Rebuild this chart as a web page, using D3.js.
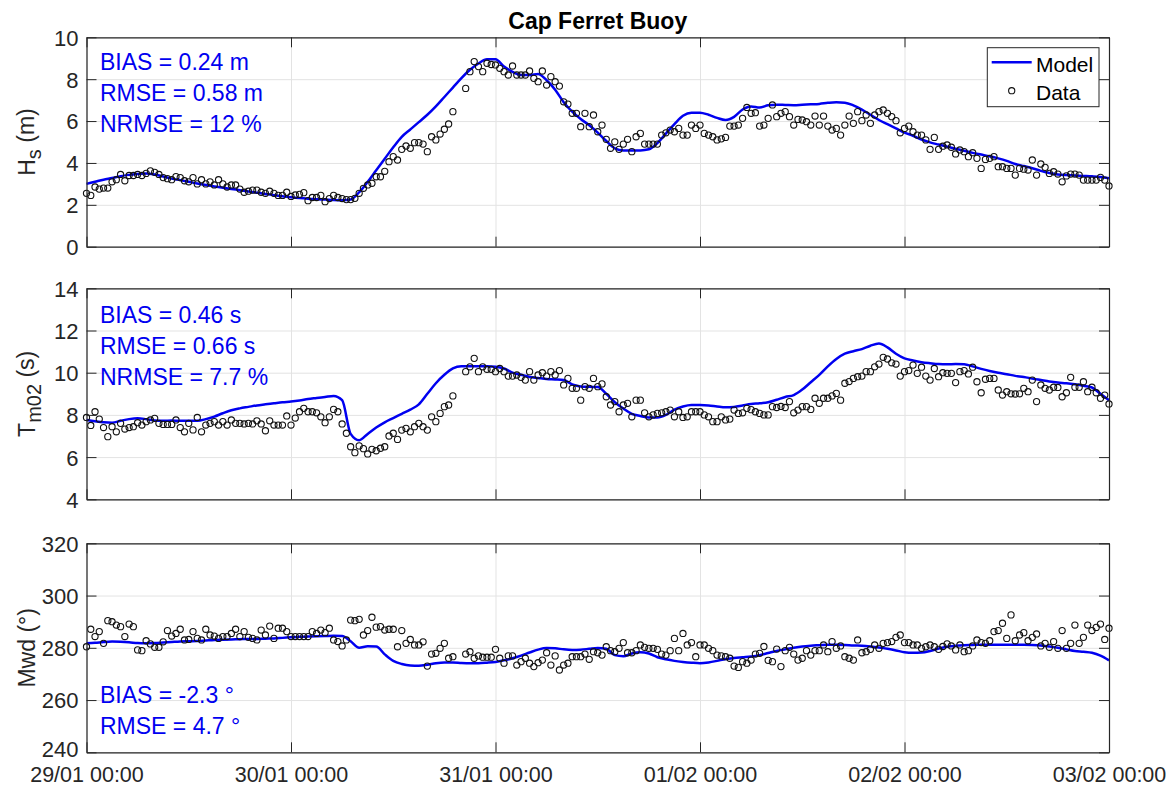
<!DOCTYPE html>
<html><head><meta charset="utf-8">
<script src="https://cdn.jsdelivr.net/npm/d3@7"></script>
<style>
body{margin:0;background:#fff}
svg{display:block}
text{font-family:"Liberation Sans",Arial,Helvetica,sans-serif}
</style>
</head><body>
<svg id="c" width="1176" height="787"></svg>
<script>
// ---------- DATA ----------
const startUTC = Date.UTC(2014, 0, 29, 0, 0);
const xTickDays = [0, 1, 2, 3, 4, 5];           // days after 29/01 00:00
const xTickLabels = ["29/01 00:00","30/01 00:00","31/01 00:00","01/02 00:00","02/02 00:00","03/02 00:00"];
const dataStepMinutes = 30;
const modelStepMinutes = 60;

// Buoy observations (every 30 min, null = missing)
const hsData = [
2.55,2.45,2.85,2.75,2.8,2.8,3.1,3.2,3.45,3.15,
3.4,3.4,3.45,3.4,3.5,3.62,3.55,3.45,3.3,3.25,
3.2,3.35,3.3,3.15,3.1,3.3,3.0,3.2,3.0,3.1,
2.95,3.2,3.0,2.85,2.95,2.95,2.75,2.6,2.65,2.7,
2.7,2.6,2.55,2.65,2.55,2.45,2.45,2.6,2.4,2.47,
2.5,2.58,2.2,2.35,2.35,2.45,2.15,2.3,2.45,2.35,
2.3,2.25,2.25,2.31,2.55,2.79,2.95,3.03,3.34,3.34,
3.6,4.06,4.3,4.14,4.65,4.81,4.7,4.97,4.97,4.9,
4.54,5.25,5.1,5.38,5.61,5.86,6.45,null,null,7.56,
8.36,8.84,8.6,8.36,8.76,8.7,8.68,8.52,8.36,8.2,
8.63,8.2,8.2,8.2,8.39,8.04,7.88,8.39,7.72,8.12,
7.88,7.67,6.92,6.81,6.37,6.37,5.73,6.37,5.73,6.29,
5.49,5.81,5.13,4.7,5.01,4.65,4.9,5.13,4.54,5.25,
5.41,4.9,4.9,4.9,4.9,5.33,5.44,5.57,5.49,5.65,
5.33,5.33,5.81,5.65,5.81,5.41,5.33,5.25,5.1,5.15,
5.22,5.76,5.76,5.81,6.13,6.65,6.37,6.4,5.76,5.81,
6.13,6.77,6.21,6.37,6.45,6.21,5.81,6.08,6.05,5.97,
5.81,6.24,5.81,6.24,5.76,5.57,5.65,5.33,5.81,6.24,
5.89,6.45,6.02,6.29,5.89,6.29,6.45,6.53,6.37,6.21,
6.02,5.44,5.65,5.76,5.49,5.33,5.33,5.1,4.65,5.22,
4.65,4.8,4.86,4.75,4.43,4.62,4.54,4.3,4.49,4.22,
3.74,4.17,4.22,4.3,3.82,3.82,3.74,3.74,3.42,3.74,
3.7,3.66,4.14,3.42,3.95,3.79,3.5,3.58,3.47,3.1,
3.38,3.47,3.47,3.42,3.18,3.18,3.18,3.18,3.31,3.18,2.9];

const tmData = [
7.88,7.5,8.15,7.8,7.4,6.97,7.44,7.2,7.6,7.33,
7.4,7.44,7.63,7.52,7.68,7.76,7.84,7.6,7.55,7.55,
7.55,7.76,7.4,7.2,7.6,7.29,7.88,7.2,7.52,7.6,
7.68,7.52,7.68,7.52,7.76,7.6,7.6,7.57,7.6,7.57,
7.72,7.57,7.25,7.72,7.52,7.52,7.52,7.95,7.52,7.85,
8.15,8.31,8.15,8.15,8.1,7.91,7.63,7.91,8.26,8.15,
7.57,7.13,6.49,6.21,6.53,6.4,6.15,6.37,6.3,6.42,
6.49,7.0,7.13,6.84,7.28,7.36,7.2,7.44,7.6,7.44,
7.28,7.91,7.68,8.07,8.39,8.47,8.9,null,null,10.05,
10.28,10.68,10.05,10.28,10.16,10.16,10.05,10.2,10.05,9.84,
9.84,9.89,9.78,9.65,10.05,9.65,9.89,10.0,9.84,10.05,
9.89,10.1,9.42,9.73,9.26,9.26,8.7,9.34,9.26,9.73,
9.34,9.47,8.86,8.47,8.63,8.15,8.47,8.55,7.91,8.7,
8.7,8.1,7.91,8.0,8.07,8.1,8.15,8.23,7.91,8.15,
7.88,7.91,8.15,8.15,8.15,8.0,7.91,7.68,7.68,7.91,
7.76,7.8,8.23,8.07,8.1,8.31,8.25,8.15,8.07,8.0,
8.0,8.39,8.35,8.4,8.35,8.63,8.1,8.23,8.39,8.39,
8.26,8.79,8.55,8.79,8.79,8.9,9.02,8.7,9.5,9.58,
9.73,9.81,9.84,10.05,10.05,10.28,10.41,10.73,10.65,10.47,
10.41,9.84,10.05,10.1,10.36,9.97,10.26,9.84,9.65,10.2,
9.81,10.0,9.97,9.97,9.53,10.05,10.1,9.94,10.26,9.57,
9.05,9.69,9.73,9.73,9.18,8.94,9.1,9.0,8.99,9.0,
9.26,9.1,9.65,8.63,9.42,9.26,9.18,9.31,9.3,8.86,
9.05,9.78,9.31,9.31,9.57,9.1,9.31,9.05,8.79,8.94,8.52];

const mwdData = [
280.4,287.1,284.3,286.2,281.7,290.4,290,288.7,288.1,284.3,
289.1,288.1,279.2,278.9,282.7,281.5,280.2,280.2,282.3,286.6,
284.5,285.5,287.1,283,283.2,286.2,283.6,283,287.1,284.9,
284.5,283.6,284.3,284.3,285.5,287.1,284.3,286.2,284,283.6,
283,286.8,284.9,288.3,283.6,287.5,287.5,286.2,284.3,284.3,
284.3,284.3,284.3,286.2,285.5,286.8,285.8,287.5,283,282.4,
280.7,283,290.6,290.4,290.9,284.9,286.6,291.7,287.9,288.1,
286.8,287.1,287.1,280.4,286.6,281.7,283.2,281.1,281.1,282.3,
273.0,277.6,277.9,279.8,281.7,276,276.6,null,null,277.6,
278.5,276,276.9,276.4,276.4,276.4,279.4,276,274.1,276.9,
276.9,273.4,274.7,276,274.1,272.8,274.3,275.3,278.1,273.4,
276.9,271.5,273.4,274.1,276.6,276.6,276.6,277.6,275.6,278.5,
278.1,277.2,280.4,278.9,278.5,279.8,282,278.1,278.1,278.9,
281.1,280.2,279.8,279.8,279.4,277.6,277.2,278.9,283.6,278.9,
285.5,281.1,282,276.6,281.1,281.1,279.8,278.9,277.2,276.9,
276.6,276,273,272.5,274.7,274.1,275.3,277.6,277.9,280.5,
275.2,274.7,279.5,272.8,278.9,280.2,277.6,275.3,276,278.9,
277.2,278.9,278.9,281.1,278.5,282.4,279.8,280.7,276.6,276,
275.3,283,278.1,278.5,279.4,281.1,279.8,281.7,282,282.4,
284,284.9,282,282,281.1,281.1,279.8,280.4,281.1,280.4,
279.4,280.5,281.5,280.7,279.2,281.1,278.5,278.9,280.7,283,
282,281.7,282.7,286.2,286.6,289.4,283.6,292.6,282.7,284.9,
285.8,282.7,284,285.3,280.7,281.7,280.2,282.4,279.8,286.6,
279.8,281.7,288.7,281.7,284,288.7,286.6,287.8,289.1,283.2,287.5];

// Model (hourly)
const hsModel = [
3.0,3.1,3.2,3.28,3.37,3.43,3.47,3.5,3.45,3.35,
3.25,3.18,3.1,3.02,2.95,2.88,2.82,2.76,2.7,2.64,
2.58,2.52,2.46,2.41,2.36,2.32,2.29,2.27,2.25,2.23,
2.22,2.25,2.6,3.1,3.65,4.2,4.75,5.25,5.6,5.95,
6.3,6.7,7.15,7.6,8.05,8.45,8.75,8.95,8.95,8.6,
8.35,8.2,8.2,8.25,7.95,7.5,6.9,6.45,6.1,5.8,
5.45,5.05,4.7,4.6,4.6,4.6,4.65,4.95,5.4,5.85,
6.25,6.4,6.4,6.3,6.15,6.05,6.2,6.55,6.7,6.65,
6.75,6.78,6.77,6.76,6.78,6.8,6.82,6.87,6.9,6.88,
6.75,6.55,6.3,6.05,5.85,5.65,5.45,5.3,5.12,4.98,
4.88,4.78,4.68,4.58,4.48,4.4,4.32,4.22,4.1,3.95,
3.85,3.75,3.62,3.52,3.45,3.42,3.4,3.38,3.36,3.33,3.27];

const tmModel = [
7.76,7.7,7.65,7.63,7.72,7.8,7.84,7.8,7.74,7.72,
7.73,7.72,7.72,7.72,7.8,7.92,8.08,8.22,8.31,8.38,
8.45,8.5,8.55,8.6,8.63,8.68,8.75,8.8,8.85,8.9,
8.7,7.1,6.8,7.1,7.4,7.65,7.85,8.05,8.25,8.5,
9.0,9.5,9.9,10.2,10.3,10.3,10.3,10.3,10.28,10.2,
10.0,9.9,9.8,9.75,9.7,9.68,9.65,9.45,9.35,9.33,
9.32,9.0,8.6,8.3,8.05,7.95,7.88,7.88,8.0,8.25,
8.4,8.47,8.47,8.45,8.4,8.36,8.38,8.45,8.52,8.55,
8.6,8.72,8.85,8.94,9.2,9.55,9.9,10.3,10.65,10.9,
11.02,11.12,11.28,11.38,11.2,10.9,10.68,10.58,10.5,10.45,
10.41,10.4,10.41,10.4,10.3,10.18,10.08,10.0,9.93,9.85,
9.8,9.72,9.65,9.58,9.53,9.5,9.45,9.38,9.3,9.0,8.7];

const mwdModel = [
281.7,281.9,282.2,282.4,282.3,282.1,281.8,281.7,281.8,282.0,
282.2,282.4,282.5,282.6,282.8,283.0,283.1,283.2,283.3,283.4,
283.4,283.5,283.6,283.8,284.0,284.2,284.3,284.4,284.5,284.6,
284.5,282.5,280.0,280.6,280.5,277.5,275.0,273.8,273.2,273.1,
273.5,274.1,274.4,274.4,274.2,274.1,274.1,274.3,274.6,275.2,
276.0,277.0,278.2,279.3,279.9,279.8,279.4,279.2,279.3,279.6,
279.9,279.6,277.2,276.8,277.8,278.3,277.8,276.4,275.6,275.0,
274.6,274.3,274.1,274.4,275.0,275.7,276.1,276.4,276.7,277.2,
278.0,278.8,279.4,280.0,280.5,280.8,281.0,281.2,281.2,281.1,
280.9,280.8,280.5,280.1,279.6,279.0,278.3,278.1,278.2,278.8,
279.7,280.4,280.8,281.0,281.1,281.2,281.2,281.2,281.2,281.2,
281.2,281.1,280.9,280.5,280.0,279.4,278.8,278.5,278.1,277.0,275.2];

const hsTicks = [0,2,4,6,8,10];
const tmTicks = [4,6,8,10,12,14];
const mwdTicks = [240,260,280,300,320];

const hsStats = ["BIAS = 0.24 m","RMSE = 0.58 m","NRMSE = 12 %"];
const tmStats = ["BIAS = 0.46 s","RMSE = 0.66 s","NRMSE = 7.7 %"];
const mwdStats = ["BIAS = -2.3 °","RMSE = 4.7 °"];

const titleText = "Cap Ferret Buoy";
const legendLabels = ["Model","Data"];

// ---------- LAYOUT ----------
const svg = d3.select("#c");
const L = 86.5, R = 1109;
const BLUE = "#0000f0", AX = "#262626", GRID = "#e3e3e3";
const MR = 3.1;

const panels = [
  {top:37.3, bottom:246.7, domain:[0,10], ticks:hsTicks, data:hsData, model:hsModel,
   stats:hsStats, statsY:[70,101,132], label:[["H",false],["s",true],[" (m)",false]], showX:false},
  {top:288.3, bottom:499.3, domain:[4,14], ticks:tmTicks, data:tmData, model:tmModel,
   stats:tmStats, statsY:[323,354,385], label:[["T",false],["m02",true],[" (s)",false]], showX:false},
  {top:543.3, bottom:752.3, domain:[240,320], ticks:mwdTicks, data:mwdData, model:mwdModel,
   stats:mwdStats, statsY:[703,734], label:[["Mwd (°)",false]], showX:true}
];

const x = d3.scaleUtc()
  .domain([new Date(startUTC), new Date(startUTC + 5*86400000)])
  .range([L, R]);
const xTickDates = xTickDays.map(d => new Date(startUTC + d*86400000));

panels.forEach(p => {
  const y = d3.scaleLinear().domain(p.domain).range([p.bottom, p.top]);
  const g = svg.append("g");
  const H = p.bottom - p.top, W = R - L;

  // grid
  const gx = g.append("g").attr("transform",`translate(0,${p.bottom})`)
    .call(d3.axisBottom(x).tickValues(xTickDates).tickSize(-H).tickFormat(""));
  gx.select(".domain").remove();
  gx.selectAll("line").attr("stroke",GRID).attr("stroke-width",1);
  const gy = g.append("g").attr("transform",`translate(${L},0)`)
    .call(d3.axisLeft(y).tickValues(p.ticks).tickSize(-W).tickFormat(""));
  gy.select(".domain").remove();
  gy.selectAll("line").attr("stroke",GRID).attr("stroke-width",1);

  // model line
  const modelPts = p.model.map((v,i)=>({t:new Date(startUTC + i*modelStepMinutes*60000), v}));
  g.append("path").datum(modelPts)
    .attr("fill","none").attr("stroke",BLUE).attr("stroke-width",2.5)
    .attr("stroke-linejoin","round")
    .attr("d", d3.line().x(d=>x(d.t)).y(d=>y(d.v)).curve(d3.curveMonotoneX));

  // data circles
  const dataPts = p.data.map((v,i)=>({t:new Date(startUTC + i*dataStepMinutes*60000), v}))
    .filter(d=>d.v!=null);
  g.append("g").selectAll("circle").data(dataPts).join("circle")
    .attr("cx",d=>x(d.t)).attr("cy",d=>y(d.v)).attr("r",MR)
    .attr("fill","none").attr("stroke","#111").attr("stroke-width",1.1);

  // axes with inward ticks
  const styleAxis = sel => {
    sel.select(".domain").attr("stroke",AX).attr("stroke-width",1.2);
    sel.selectAll(".tick line").attr("stroke",AX).attr("stroke-width",1);
    sel.selectAll("text").attr("fill",AX).style("font-size","22px")
      .style("font-family",'"Liberation Sans",Arial,sans-serif');
  };
  const ay = g.append("g").attr("transform",`translate(${L},0)`)
    .call(d3.axisLeft(y).tickValues(p.ticks).tickSize(-10).tickSizeOuter(0).tickPadding(8).tickFormat(d3.format("d")));
  styleAxis(ay);
  ay.selectAll("text").attr("dy", d => (p.showX && d === p.domain[0]) ? "0.2em" : "0.36em");
  const ar = g.append("g").attr("transform",`translate(${R},0)`)
    .call(d3.axisRight(y).tickValues(p.ticks).tickSize(-10).tickSizeOuter(0).tickFormat(""));
  styleAxis(ar);
  const at = g.append("g").attr("transform",`translate(0,${p.top})`)
    .call(d3.axisTop(x).tickValues(xTickDates).tickSize(-10).tickSizeOuter(0).tickFormat(""));
  styleAxis(at);
  const ab = g.append("g").attr("transform",`translate(0,${p.bottom})`)
    .call(d3.axisBottom(x).tickValues(xTickDates).tickSize(-10).tickSizeOuter(0).tickPadding(14)
      .tickFormat((d,i)=> p.showX ? xTickLabels[i] : ""));
  styleAxis(ab);
  ab.selectAll("text").style("font-size","21.5px");

  // y label
  const cy = (p.top + p.bottom)/2;
  const yl = g.append("text").attr("transform",`translate(35,${cy}) rotate(-90)`)
    .attr("text-anchor","middle").attr("fill",AX).style("font-size","23px");
  p.label.forEach(([s,sub])=>{
    const ts = yl.append("tspan").text(s);
    if (sub) ts.attr("dy","0.28em").style("font-size","20px");
    else if (yl.selectAll("tspan").size()>1) ts.attr("dy","-0.28em");
  });

  // stats
  p.stats.forEach((s,i)=>{
    g.append("text").attr("x",100).attr("y",p.statsY[i]).attr("fill",BLUE)
      .style("font-size","23px").text(s);
  });
});

// title
svg.append("text").attr("x",(L+R)/2).attr("y",29).attr("text-anchor","middle")
  .style("font-size","23px").style("font-weight","bold").attr("fill","#000").text(titleText);

// legend
const lg = svg.append("g");
lg.append("rect").attr("x",987.3).attr("y",47.7).attr("width",111.7).attr("height",59)
  .attr("fill","#fff").attr("stroke",AX).attr("stroke-width",1);
lg.append("line").attr("x1",991.7).attr("x2",1031.7).attr("y1",62.3).attr("y2",62.3)
  .attr("stroke",BLUE).attr("stroke-width",2.5);
lg.append("circle").attr("cx",1011.7).attr("cy",90.7).attr("r",MR)
  .attr("fill","none").attr("stroke","#111").attr("stroke-width",1.1);
lg.append("text").attr("x",1036).attr("y",71.5).style("font-size","21px").attr("fill","#000").text(legendLabels[0]);
lg.append("text").attr("x",1036).attr("y",99.5).style("font-size","21px").attr("fill","#000").text(legendLabels[1]);
</script>
</body></html>
